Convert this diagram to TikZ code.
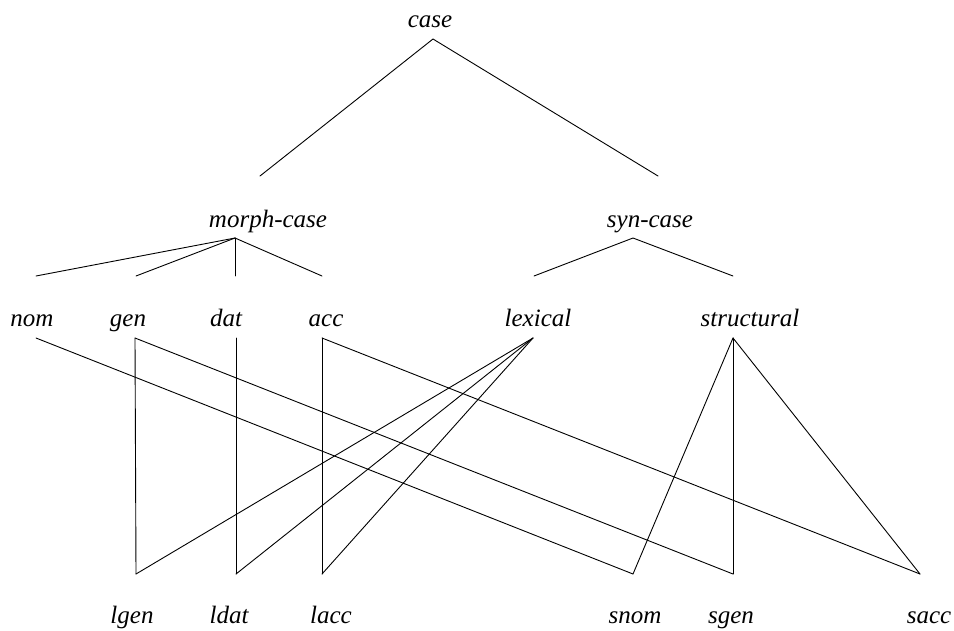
\documentclass[tikz,border=0pt]{standalone}
\usepackage{fontspec}
\setmainfont{Liberation Serif}
\begin{document}
\begin{tikzpicture}[x=1pt,y=-1pt,
  lbl/.style={font=\fontsize{25}{30}\selectfont\itshape, inner sep=0pt, anchor=base},
  edge/.style={line width=0.9pt, draw=black, line cap=round}]
\useasboundingbox (0,0) rectangle (954,630);

% labels
\node[lbl] (case)   at (430,27)  {case};
\node[lbl] (morph)  at (268,227) {morph-case};
\node[lbl] (syn)    at (650,227) {syn-case};
\node[lbl] (nom)    at (32,326)  {nom};
\node[lbl] (gen)    at (128,326) {gen};
\node[lbl] (dat)    at (226,326) {dat};
\node[lbl] (acc)    at (326,326) {acc};
\node[lbl] (lex)    at (538,326) {lexical};
\node[lbl] (struct) at (750,326) {structural};
\node[lbl] (lgen)   at (132,623) {lgen};
\node[lbl] (ldat)   at (229,623) {ldat};
\node[lbl] (lacc)   at (331,623) {lacc};
\node[lbl] (snom)   at (635,623) {snom};
\node[lbl] (sgen)   at (731,623) {sgen};
\node[lbl] (sacc)   at (929,623) {sacc};

% attachment points
\coordinate (case-t)  at (433,39);
\coordinate (case-l)  at (260,176);
\coordinate (case-r)  at (658,176);
\coordinate (morph-t) at (235,238);
\coordinate (m1) at (36,276);
\coordinate (m2) at (136,276);
\coordinate (m3) at (235,276);
\coordinate (m4) at (322,276);
\coordinate (syn-t) at (633,238);
\coordinate (s1) at (534,276);
\coordinate (s2) at (733,276);
\coordinate (nom-t)    at (36,338);
\coordinate (gen-t)    at (135,338);
\coordinate (dat-t)    at (236,338);
\coordinate (acc-t)    at (322,338);
\coordinate (lex-t)    at (533,338);
\coordinate (struct-t) at (733,338);
\coordinate (lgen-b) at (136,574);
\coordinate (ldat-b) at (236,574);
\coordinate (lacc-b) at (322,574);
\coordinate (snom-b) at (633,574);
\coordinate (sgen-b) at (733,574);
\coordinate (sacc-b) at (920,574);

% upper tree
\draw[edge] (case-l) -- (case-t) -- (case-r);
\draw[edge] (morph-t) -- (m1);
\draw[edge] (morph-t) -- (m2);
\draw[edge] (morph-t) -- (m3);
\draw[edge] (morph-t) -- (m4);
\draw[edge] (s1) -- (syn-t) -- (s2);

% morphological cases to their targets
\draw[edge] (nom-t) -- (snom-b);
\draw[edge] (gen-t) -- (lgen-b);
\draw[edge] (gen-t) -- (sgen-b);
\draw[edge] (dat-t) -- (ldat-b);
\draw[edge] (acc-t) -- (lacc-b);
\draw[edge] (acc-t) -- (sacc-b);

% lexical and structural
\draw[edge] (lex-t) -- (lgen-b);
\draw[edge] (lex-t) -- (ldat-b);
\draw[edge] (lex-t) -- (lacc-b);
\draw[edge] (struct-t) -- (snom-b);
\draw[edge] (struct-t) -- (sgen-b);
\draw[edge] (struct-t) -- (sacc-b);
\end{tikzpicture}
\end{document}
